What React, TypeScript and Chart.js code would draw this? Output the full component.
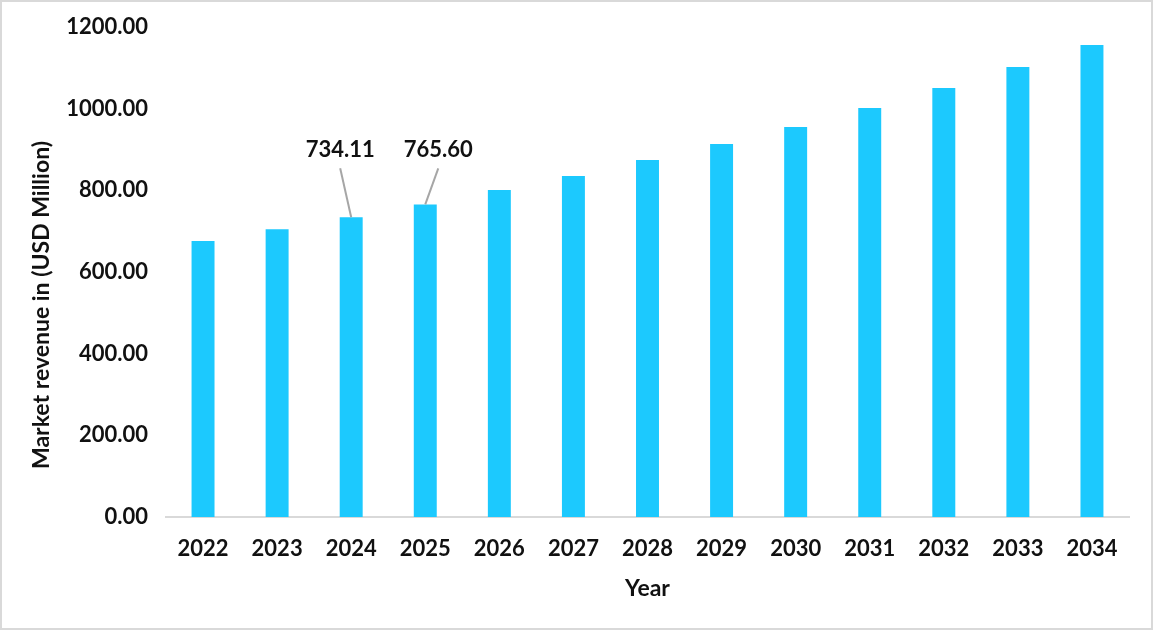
import React, { useEffect, useRef } from "react";
import { Chart, registerables } from "chart.js";

Chart.register(...registerables);

const years = ["2022", "2023", "2024", "2025", "2026", "2027", "2028", "2029", "2030", "2031", "2032", "2033", "2034"];
const revenue = [676, 705, 734.11, 765.6, 801, 835, 874, 913.5, 955, 1001.6, 1050.6, 1102, 1156];
const annotatedIndex = [2, 3];
const annotatedText = ["734.11", "765.60"];
const annotatedDx = [-11, 13];
const annotatedRise = [67, 54];
const yTitle = "Market revenue in (USD Million)";
const xTitle = "Year";

const FONT = "Lato, 'Open Sans', sans-serif";
const BAR = "#1CC9FE";

const calloutPlugin = {
  id: "callouts",
  afterDatasetsDraw(chart: any) {
    const ctx = chart.ctx;
    const meta = chart.getDatasetMeta(0);
    ctx.save();
    annotatedIndex.forEach((idx, i) => {
      const bar = meta.data[idx];
      const lx = bar.x + annotatedDx[i];
      const ly = bar.y - annotatedRise[i];
      ctx.strokeStyle = "#a6a6a6";
      ctx.lineWidth = 2;
      ctx.beginPath();
      ctx.moveTo(lx, ly + 18);
      ctx.lineTo(bar.x, bar.y);
      ctx.stroke();
      ctx.fillStyle = "#111111";
      ctx.font = `bold 22px ${FONT}`;
      ctx.textAlign = "center";
      ctx.textBaseline = "middle";
      ctx.fillText(annotatedText[i], lx, ly);
    });
    // y-axis title
    const yScale = chart.scales.y;
    ctx.translate(42, (yScale.top + yScale.bottom) / 2 + 33);
    ctx.rotate(-Math.PI / 2);
    ctx.font = `bold 23px ${FONT}`;
    ctx.fillStyle = "#111111";
    ctx.textAlign = "center";
    ctx.textBaseline = "middle";
    ctx.fillText(yTitle, 0, 0);
    ctx.restore();
  },
};

const framePlugin = {
  id: "frame",
  beforeDraw(chart: any) {
    const ctx = chart.ctx;
    ctx.save();
    ctx.fillStyle = "#ffffff";
    ctx.fillRect(0, 0, chart.width, chart.height);
    ctx.restore();
  },
  afterDraw(chart: any) {
    const ctx = chart.ctx;
    ctx.save();
    ctx.strokeStyle = "#d9d9d9";
    ctx.lineWidth = 2;
    ctx.strokeRect(1, 1, chart.width - 2, chart.height - 2);
    ctx.restore();
  },
};

export default function App() {
  const ref = useRef<HTMLCanvasElement | null>(null);
  useEffect(() => {
    if (!ref.current) return;
    const chart = new Chart(ref.current, {
      type: "bar",
      data: {
        labels: years,
        datasets: [
          {
            data: revenue,
            backgroundColor: BAR,
            borderWidth: 0,
            barPercentage: 0.31,
            categoryPercentage: 1,
          },
        ],
      },
      options: {
        responsive: false,
        animation: false,
        layout: { padding: { top: 27, right: 24, left: 0, bottom: 0 } },
        plugins: {
          legend: { display: false },
          tooltip: { enabled: false },
        },
        scales: {
          x: {
            grid: { display: false, drawTicks: false },
            border: { display: true, color: "#d9d9d9", width: 2 },
            ticks: {
              color: "#111111",
              font: { family: FONT, size: 22, weight: "bold" },
              padding: 19,
            },
            title: {
              display: true,
              text: xTitle,
              color: "#111111",
              font: { family: FONT, size: 23, weight: "bold" },
              padding: { top: 0, bottom: 28 },
            },
            afterFit(scale: any) {
              scale.height = 113;
              scale.paddingLeft = 0;
              scale.paddingRight = 0;
            },
          },
          y: {
            min: 0,
            max: 1200,
            grid: { display: false, drawTicks: false },
            border: { display: false },
            ticks: {
              stepSize: 200,
              color: "#111111",
              font: { family: FONT, size: 22, weight: "bold" },
              padding: 18,
              callback: (v: any) => Number(v).toFixed(2),
            },
            afterFit(scale: any) {
              scale.width = 166;
              scale.paddingTop = 0;
              scale.paddingBottom = 0;
            },
          },
        },
      },
      plugins: [framePlugin, calloutPlugin],
    });
    return () => chart.destroy();
  }, []);
  return (
    <div style={{ position: "absolute", left: 0, top: 0, width: 1153, height: 630 }}>
      <canvas ref={ref} width={1153} height={630} style={{ display: "block" }} />
    </div>
  );
}
